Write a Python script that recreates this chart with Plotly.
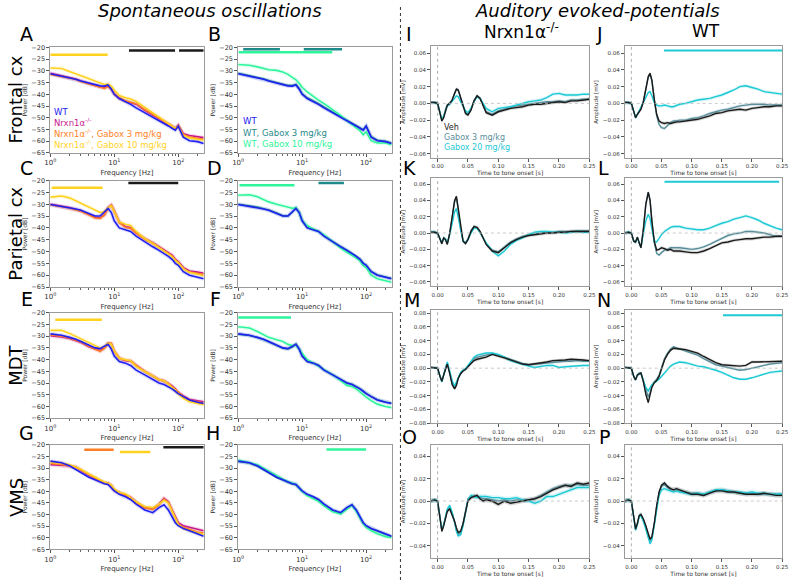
import math
import plotly.graph_objects as go

# ---------------- DATA ----------------
FREQ = [1, 1.5, 2, 2.5, 3, 4, 5, 6, 7, 8, 9, 10, 12, 15, 18, 22, 30, 40, 50, 60, 70, 80, 90, 100, 120, 150, 200, 250]

# Frontal cortex
FR_WT   = [-31.2,-32.2,-33.0,-33.6,-34.3,-35.3,-36.0,-36.4,-36.5,-36.0,-37.8,-40.0,-41.8,-43.0,-44.3,-45.8,-47.8,-49.8,-51.2,-52.5,-53.5,-54.5,-55.3,-53.6,-58.3,-59.8,-60.2,-61.0]
FR_KO   = [-31.0,-32.0,-32.8,-33.5,-34.3,-35.5,-36.3,-36.9,-37.2,-36.5,-37.8,-39.8,-41.8,-43.0,-43.6,-44.2,-46.8,-48.8,-50.3,-51.5,-52.5,-53.5,-54.5,-53.2,-56.8,-57.6,-58.0,-58.5]
FR_G3   = [-31.5,-32.3,-33.0,-33.6,-34.5,-35.6,-36.5,-37.2,-37.5,-36.8,-37.8,-39.8,-41.5,-42.8,-43.5,-44.0,-46.5,-48.5,-50.0,-51.3,-52.5,-53.5,-54.6,-53.4,-57.2,-58.2,-58.8,-59.2]
FR_G10  = [-28.8,-29.0,-30.3,-31.3,-32.3,-33.5,-34.5,-35.3,-35.8,-35.6,-36.5,-38.2,-40.5,-41.5,-42.0,-43.0,-45.5,-48.0,-49.6,-51.0,-52.4,-53.6,-54.6,-53.6,-57.6,-58.6,-59.2,-59.6]
FR_WG3  = [-31.0,-32.0,-32.8,-33.4,-34.1,-35.1,-35.8,-36.2,-36.3,-35.8,-37.5,-39.7,-41.5,-42.7,-44.0,-45.5,-47.6,-49.6,-51.0,-52.3,-53.3,-54.3,-55.1,-53.5,-58.1,-59.6,-60.0,-60.8]
FR_WG10 = [-27.3,-27.6,-28.3,-29.0,-29.5,-29.8,-30.5,-31.5,-32.8,-33.8,-35.3,-37.0,-39.0,-41.0,-42.5,-44.0,-46.5,-49.0,-51.2,-53.0,-54.3,-55.5,-57.3,-56.0,-59.8,-60.8,-60.8,-61.5]

# Parietal cortex
PA_WT   = [-30.1,-30.8,-31.3,-32.0,-32.5,-33.8,-35.0,-35.0,-33.5,-31.8,-33.5,-37.0,-40.0,-41.0,-41.5,-43.5,-46.0,-48.0,-49.5,-50.8,-52.0,-53.3,-55.0,-55.8,-58.5,-60.0,-60.8,-61.5]
PA_KO   = [-30.0,-30.8,-31.4,-32.2,-32.8,-34.3,-35.5,-35.8,-34.5,-31.5,-30.3,-32.8,-37.5,-39.5,-39.8,-42.0,-44.5,-46.3,-48.0,-49.3,-50.3,-51.5,-53.3,-54.2,-56.8,-58.2,-58.7,-59.2]
PA_G3   = [-30.2,-31.0,-31.6,-32.4,-33.0,-34.5,-35.8,-36.0,-34.6,-31.5,-30.5,-33.0,-37.8,-39.8,-40.2,-42.3,-44.8,-46.6,-48.2,-49.5,-50.5,-51.8,-53.6,-54.5,-57.2,-58.7,-59.2,-59.7]
PA_G10  = [-27.0,-26.5,-27.3,-28.5,-29.5,-31.0,-32.5,-33.5,-33.2,-31.5,-30.6,-33.0,-37.5,-38.5,-39.0,-41.5,-44.5,-46.5,-48.5,-49.8,-51.0,-52.2,-53.8,-54.8,-57.3,-58.8,-59.6,-60.2]
PA_WG3  = [-30.0,-30.7,-31.2,-31.9,-32.4,-33.7,-34.9,-34.9,-33.4,-31.6,-33.4,-36.8,-39.8,-40.8,-41.4,-43.4,-45.9,-47.9,-49.4,-50.7,-51.9,-53.2,-54.9,-55.7,-58.4,-59.9,-60.8,-61.4]
PA_WG10 = [-26.2,-26.0,-26.8,-28.0,-29.0,-30.0,-30.6,-31.2,-31.7,-31.5,-33.5,-37.0,-39.0,-40.5,-41.5,-43.0,-46.0,-48.5,-50.3,-51.5,-52.7,-54.0,-56.0,-56.8,-60.0,-61.5,-62.3,-63.0]

# MDT
MD_WT   = [-29.0,-29.6,-30.5,-31.3,-32.3,-33.8,-35.0,-35.3,-34.5,-33.5,-35.5,-38.5,-40.8,-41.5,-42.5,-44.5,-46.5,-48.5,-50.0,-50.6,-51.5,-52.5,-53.5,-54.5,-55.8,-57.2,-58.2,-58.7]
MD_KO   = [-29.8,-30.3,-31.0,-31.8,-32.6,-34.5,-35.5,-36.2,-35.0,-33.0,-33.2,-36.5,-39.5,-40.5,-40.6,-42.5,-45.0,-47.0,-48.5,-49.0,-50.0,-51.2,-52.5,-54.0,-55.5,-57.0,-57.6,-58.0]
MD_G3   = [-29.5,-30.0,-30.8,-31.6,-32.5,-34.3,-35.5,-36.5,-35.2,-33.0,-33.0,-36.3,-39.3,-40.3,-40.5,-42.5,-45.0,-47.0,-48.6,-49.2,-50.2,-51.5,-52.8,-54.2,-55.8,-57.4,-58.0,-58.5]
MD_G10  = [-27.5,-27.5,-28.8,-30.0,-31.0,-32.5,-34.0,-35.0,-34.5,-33.0,-33.5,-36.5,-39.5,-40.0,-40.5,-43.0,-45.0,-47.0,-48.5,-49.0,-50.5,-51.8,-53.0,-54.5,-56.5,-58.0,-58.8,-59.2]
MD_WG3  = [-29.1,-29.7,-30.6,-31.4,-32.4,-33.9,-35.1,-35.4,-34.6,-33.4,-35.4,-38.4,-40.7,-41.4,-42.4,-44.4,-46.4,-48.4,-49.9,-50.5,-51.4,-52.4,-53.4,-54.4,-55.7,-57.1,-58.1,-58.6]
MD_WG10 = [-26.0,-26.5,-28.0,-29.3,-30.5,-31.5,-32.3,-33.5,-34.0,-33.8,-35.5,-37.5,-40.0,-41.5,-42.8,-44.3,-46.5,-49.0,-51.0,-51.5,-52.5,-53.8,-55.0,-56.0,-57.5,-59.0,-60.0,-60.5]

# VMS
VM_WT   = [-27.0,-27.7,-29.0,-30.5,-31.8,-33.9,-35.0,-36.0,-36.7,-37.0,-38.5,-39.8,-41.3,-42.3,-43.5,-45.5,-48.0,-49.2,-47.0,-45.8,-48.0,-51.0,-53.5,-54.8,-56.0,-57.0,-58.3,-59.3]
VM_KO   = [-28.5,-28.8,-29.0,-29.5,-31.0,-33.0,-34.5,-35.5,-36.3,-36.5,-37.5,-39.5,-40.5,-41.5,-42.5,-44.5,-47.0,-47.5,-45.5,-43.0,-44.5,-48.0,-51.0,-53.5,-54.8,-55.5,-56.3,-57.0]
VM_G3   = [-28.0,-28.5,-28.8,-29.5,-30.8,-32.8,-34.3,-35.5,-36.3,-36.5,-37.6,-39.6,-40.6,-41.6,-42.8,-44.8,-47.2,-47.8,-45.8,-43.3,-44.8,-48.5,-51.5,-54.0,-55.5,-56.5,-57.5,-58.0]
VM_G10  = [-27.5,-27.8,-28.5,-29.5,-30.5,-32.5,-34.0,-35.0,-36.0,-36.5,-37.3,-39.0,-40.5,-41.0,-42.5,-44.5,-46.5,-47.0,-45.5,-43.8,-45.0,-48.5,-51.5,-54.3,-56.0,-57.0,-58.0,-58.5]
VM_WG3  = [-27.1,-27.8,-29.1,-30.6,-31.9,-34.0,-35.1,-36.1,-36.8,-37.1,-38.6,-39.9,-41.4,-42.4,-43.6,-45.6,-48.1,-49.3,-47.1,-45.9,-48.1,-51.1,-53.6,-54.9,-56.1,-57.1,-58.4,-59.4]
VM_WG10 = [-26.5,-27.5,-28.5,-30.0,-31.3,-33.5,-34.8,-35.8,-36.5,-37.0,-38.5,-40.0,-41.8,-43.0,-44.3,-46.3,-48.8,-49.8,-47.5,-46.0,-48.5,-51.5,-54.0,-55.5,-57.0,-58.3,-59.5,-60.0]

# significant frequency ranges [Hz]
SIG_A_G10 = [[1.0, 7.9]];  SIG_A_KO = [[17, 89], [103, 250]]
SIG_B_WG3 = [[1.2, 4.5], [10.6, 42]];  SIG_B_WG10 = [[1.02, 29.6]]
SIG_C_G10 = [[1.05, 6.6]];  SIG_C_KO = [[16.6, 100]]
SIG_D_WG10 = [[1.05, 7.6]];  SIG_D_WG3 = [[18, 45]]
SIG_E_G10 = [[1.2, 6.4]]
SIG_F_WG10 = [[1.0, 6.7]]
SIG_G_G3 = [[3.4, 9.8]];  SIG_G_G10 = [[12.3, 36.7]];  SIG_G_KO = [[58.5, 250]]
SIG_H_WG10 = [[24, 100]]

# ERPs
T = [-0.011,-0.005,0.000,0.004,0.007,0.010,0.013,0.016,0.020,0.024,0.028,0.031,0.034,0.038,0.042,0.046,0.050,0.055,0.060,0.065,
     0.070,0.075,0.080,0.090,0.100,0.110,0.120,0.130,0.140,0.150,0.160,0.170,0.180,0.190,0.200,0.210,0.220,0.230,0.240,0.250]

I_VEH = [0.001,0.001,0.000,-0.012,-0.021,-0.017,-0.008,-0.002,0.000,0.004,0.012,0.017,0.016,0.006,-0.004,-0.012,-0.014,-0.008,0.003,0.009,
         0.006,-0.003,-0.011,-0.014,-0.010,-0.008,-0.006,-0.005,-0.004,-0.002,-0.001,-0.001,0.000,0.001,0.002,0.001,0.003,0.003,0.004,0.005]
I_G3  = [0.001,0.001,0.000,-0.011,-0.020,-0.016,-0.007,-0.002,0.000,0.004,0.012,0.017,0.016,0.007,-0.003,-0.011,-0.013,-0.007,0.003,0.009,
         0.006,-0.002,-0.010,-0.013,-0.009,-0.007,-0.005,-0.003,-0.002,-0.001,0.000,0.001,0.002,0.002,0.003,0.002,0.004,0.004,0.005,0.005]
I_G20 = [0.001,0.001,0.000,-0.011,-0.019,-0.015,-0.008,-0.003,-0.001,0.002,0.006,0.009,0.008,0.002,-0.004,-0.009,-0.011,-0.006,0.002,0.008,
         0.006,0.000,-0.006,-0.010,-0.006,-0.005,-0.004,-0.002,0.000,0.002,0.003,0.004,0.007,0.011,0.012,0.010,0.010,0.010,0.011,0.011]

J_VEH = [0.001,0.001,0.000,-0.010,-0.017,-0.013,-0.010,-0.007,0.002,0.016,0.032,0.036,0.028,0.005,-0.013,-0.021,-0.023,-0.024,-0.023,-0.024,
         -0.023,-0.022,-0.022,-0.021,-0.020,-0.019,-0.017,-0.015,-0.012,-0.011,-0.009,-0.008,-0.007,-0.008,-0.006,-0.005,-0.004,-0.004,-0.003,-0.003]
J_G3  = [0.001,0.001,0.000,-0.010,-0.017,-0.013,-0.010,-0.006,0.003,0.017,0.031,0.035,0.027,0.004,-0.015,-0.025,-0.029,-0.030,-0.026,-0.023,
         -0.021,-0.021,-0.020,-0.020,-0.018,-0.017,-0.015,-0.012,-0.010,-0.008,-0.007,-0.005,-0.003,-0.002,-0.001,-0.001,-0.001,-0.002,-0.002,-0.002]
J_G20 = [0.001,0.001,0.000,-0.010,-0.017,-0.013,-0.009,-0.005,0.001,0.007,0.013,0.014,0.009,0.001,-0.002,-0.003,-0.003,-0.002,-0.003,-0.004,
         -0.004,-0.002,-0.001,0.000,0.002,0.004,0.005,0.006,0.008,0.010,0.013,0.016,0.020,0.021,0.019,0.017,0.014,0.013,0.012,0.011]

K_VEH = [0.001,0.001,0.000,-0.008,-0.013,-0.006,-0.008,-0.014,0.000,0.020,0.040,0.045,0.030,0.005,-0.010,-0.013,-0.008,0.002,0.008,0.007,
         0.002,-0.006,-0.014,-0.022,-0.024,-0.018,-0.012,-0.008,-0.005,-0.003,-0.002,-0.001,0.000,0.000,0.001,0.001,0.002,0.002,0.002,0.002]
K_G3  = [0.001,0.001,0.000,-0.008,-0.013,-0.006,-0.008,-0.013,0.000,0.019,0.038,0.043,0.029,0.004,-0.010,-0.012,-0.007,0.003,0.008,0.006,
         0.001,-0.006,-0.013,-0.021,-0.023,-0.017,-0.011,-0.007,-0.004,-0.002,-0.001,0.000,0.001,0.001,0.002,0.002,0.002,0.003,0.003,0.003]
K_G20 = [0.001,0.001,0.000,-0.007,-0.012,-0.006,-0.007,-0.012,-0.002,0.012,0.026,0.030,0.020,0.003,-0.010,-0.012,-0.008,0.000,0.006,0.006,
         0.001,-0.006,-0.012,-0.022,-0.028,-0.022,-0.014,-0.009,-0.006,-0.002,0.001,0.002,0.002,0.001,0.001,0.000,0.001,0.002,0.001,0.001]

L_VEH = [0.000,0.001,0.000,-0.010,-0.011,-0.005,-0.012,-0.018,0.005,0.035,0.050,0.040,0.015,-0.010,-0.021,-0.020,-0.018,-0.019,-0.021,-0.020,
         -0.022,-0.022,-0.022,-0.023,-0.024,-0.024,-0.022,-0.019,-0.015,-0.012,-0.011,-0.009,-0.008,-0.007,-0.007,-0.006,-0.005,-0.005,-0.004,-0.004]
L_G3  = [0.000,0.001,0.000,-0.010,-0.011,-0.005,-0.012,-0.018,0.005,0.036,0.050,0.041,0.015,-0.012,-0.025,-0.027,-0.024,-0.021,-0.020,-0.018,
         -0.018,-0.018,-0.018,-0.019,-0.020,-0.019,-0.017,-0.014,-0.010,-0.006,-0.003,-0.001,0.000,0.002,0.002,0.001,0.000,-0.002,-0.004,-0.004]
L_G20 = [0.000,0.001,0.000,-0.010,-0.011,-0.006,-0.012,-0.017,0.000,0.015,0.023,0.018,0.005,-0.010,-0.011,-0.006,-0.002,0.002,0.005,0.007,
         0.008,0.008,0.008,0.006,0.005,0.004,0.004,0.006,0.009,0.012,0.014,0.017,0.019,0.021,0.019,0.016,0.012,0.009,0.006,0.004]

M_VEH = [0.001,0.001,0.000,-0.012,-0.019,-0.010,0.000,0.006,-0.008,-0.024,-0.030,-0.025,-0.015,-0.008,-0.004,-0.002,0.002,0.007,0.011,0.013,
         0.014,0.015,0.016,0.020,0.018,0.015,0.012,0.009,0.006,0.005,0.006,0.007,0.009,0.011,0.011,0.012,0.013,0.013,0.012,0.011]
M_G3  = [0.001,0.001,0.000,-0.012,-0.019,-0.010,0.001,0.007,-0.007,-0.022,-0.028,-0.023,-0.014,-0.007,-0.003,-0.001,0.003,0.009,0.014,0.016,
         0.017,0.018,0.019,0.021,0.019,0.016,0.012,0.009,0.007,0.005,0.006,0.006,0.008,0.009,0.009,0.010,0.010,0.011,0.010,0.010]
M_G20 = [0.001,0.001,0.000,-0.012,-0.020,-0.010,0.002,0.009,-0.004,-0.018,-0.026,-0.020,-0.012,-0.006,-0.003,-0.001,0.004,0.010,0.016,0.019,
         0.020,0.021,0.022,0.022,0.020,0.016,0.011,0.008,0.005,0.003,0.001,0.003,0.004,0.004,0.001,0.002,0.003,0.004,0.004,0.004]

N_VEH = [0.001,0.001,0.000,-0.012,-0.017,-0.010,-0.008,-0.007,-0.020,-0.038,-0.050,-0.040,-0.028,-0.021,-0.018,-0.012,0.000,0.012,0.020,0.026,
         0.029,0.029,0.028,0.027,0.025,0.022,0.017,0.012,0.008,0.005,0.004,0.003,0.003,0.004,0.009,0.009,0.009,0.010,0.010,0.010]
N_G3  = [0.001,0.001,0.000,-0.012,-0.017,-0.010,-0.007,-0.007,-0.018,-0.032,-0.042,-0.035,-0.026,-0.020,-0.016,-0.010,0.002,0.014,0.022,0.028,
         0.031,0.030,0.028,0.025,0.022,0.019,0.014,0.009,0.005,0.003,0.001,-0.001,-0.003,-0.002,0.000,0.002,0.005,0.006,0.007,0.008]
N_G20 = [0.001,0.001,0.000,-0.012,-0.017,-0.010,-0.008,-0.008,-0.018,-0.028,-0.033,-0.028,-0.024,-0.021,-0.019,-0.016,-0.012,-0.007,-0.002,0.003,
         0.006,0.008,0.009,0.008,0.005,0.003,0.002,0.000,-0.003,-0.006,-0.010,-0.014,-0.016,-0.016,-0.014,-0.011,-0.008,-0.006,-0.005,-0.004]

O_VEH = [0.000,0.001,0.000,-0.015,-0.027,-0.022,-0.016,-0.009,-0.007,-0.012,-0.018,-0.024,-0.028,-0.027,-0.020,-0.010,0.000,0.003,0.004,0.005,
         0.002,0.000,0.001,0.000,-0.003,0.000,-0.002,-0.001,0.000,0.001,0.002,0.004,0.007,0.010,0.012,0.014,0.013,0.016,0.015,0.016]
O_G3  = [0.000,0.001,0.000,-0.015,-0.026,-0.021,-0.015,-0.008,-0.006,-0.011,-0.019,-0.026,-0.030,-0.028,-0.020,-0.008,0.002,0.004,0.005,0.004,
         0.003,0.002,0.002,0.001,0.000,0.001,0.000,0.001,0.001,0.001,0.002,0.005,0.008,0.011,0.013,0.014,0.014,0.015,0.014,0.014]
O_G20 = [0.000,0.001,0.000,-0.014,-0.026,-0.021,-0.014,-0.007,-0.004,-0.010,-0.019,-0.027,-0.031,-0.030,-0.022,-0.010,0.001,0.005,0.004,0.003,
         0.004,0.004,0.004,0.003,0.003,0.002,0.002,0.003,0.001,0.000,-0.002,0.000,0.004,0.004,0.006,0.008,0.010,0.012,0.012,0.012]

P_VEH = [0.000,0.001,0.000,-0.014,-0.025,-0.020,-0.013,-0.012,-0.016,-0.022,-0.030,-0.034,-0.032,-0.020,-0.004,0.008,0.014,0.016,0.013,0.011,
         0.010,0.011,0.010,0.008,0.006,0.006,0.005,0.007,0.009,0.009,0.008,0.008,0.007,0.006,0.006,0.006,0.007,0.006,0.005,0.005]
P_G3  = [0.000,0.001,0.000,-0.014,-0.025,-0.020,-0.013,-0.012,-0.017,-0.023,-0.031,-0.035,-0.033,-0.021,-0.005,0.007,0.013,0.015,0.012,0.010,
         0.010,0.010,0.009,0.008,0.007,0.007,0.006,0.008,0.009,0.010,0.009,0.008,0.007,0.007,0.007,0.006,0.006,0.006,0.006,0.006]
P_G20 = [0.000,0.001,0.000,-0.014,-0.026,-0.021,-0.014,-0.013,-0.018,-0.025,-0.033,-0.038,-0.035,-0.022,-0.006,0.005,0.010,0.011,0.010,0.009,
         0.008,0.009,0.008,0.007,0.006,0.007,0.006,0.008,0.010,0.010,0.009,0.008,0.008,0.007,0.008,0.007,0.007,0.006,0.006,0.006]

SIG_J = [[0.054, 0.25]]
SIG_L = [[0.055, 0.245]]
SIG_N = [[0.152, 0.25]]
ERP_SEM = 0.002

# ---------------- STYLE ----------------
C_WT, C_KO, C_G3, C_G10 = "#2020f0", "#c8188f", "#ff7f27", "#ffd21f"
C_WG3, C_WG10 = "#1f8a8a", "#2ef59b"
C_VEH, C_E3, C_E20 = "#1a1a1a", "#5a8e9a", "#1cc9d4"
C_BLACKBAR = "#1a1a1a"

W, H = 795, 584
def px(x): return x / W
def py(y): return 1 - y / H
def rgba(hexc, a):
    h = hexc.lstrip('#')
    return "rgba(%d,%d,%d,%.2f)" % (int(h[0:2], 16), int(h[2:4], 16), int(h[4:6], 16), a)

FONT = "DejaVu Sans"
fig = go.Figure()
layout = dict(width=W, height=H, margin=dict(l=0, r=0, t=0, b=0), paper_bgcolor="white",
              plot_bgcolor="white", showlegend=False, font=dict(family=FONT, color="#333"))
annotations, shapes = [], []

def names(n):
    return ("xaxis" if n == 1 else "xaxis%d" % n, "yaxis" if n == 1 else "yaxis%d" % n,
            "x" if n == 1 else "x%d" % n, "y" if n == 1 else "y%d" % n)

MINOR = [2, 3, 4, 5, 6, 7, 8, 9, 20, 30, 40, 50, 60, 70, 80, 90, 200]
axstyle = dict(showline=True, mirror=True, linecolor="#9a9a9a", linewidth=0.8, showgrid=False,
               zeroline=False, ticks="outside", ticklen=3, tickwidth=0.7, tickcolor="#555")

def psd_panel(n, xd, yd, series, bars):
    xa, ya, xr, yr = names(n)
    layout[xa] = dict(domain=[px(xd[0]), px(xd[1])], anchor=yr, type="log", range=[0, math.log10(250)],
                      tickvals=[1, 10, 100], ticktext=["10<sup>0</sup>", "10<sup>1</sup>", "10<sup>2</sup>"],
                      tickfont=dict(size=7, color="#333"),
                      title=dict(text="Frequency [Hz]", font=dict(size=7, color="#333"), standoff=3),
                      minor=dict(tickvals=MINOR, ticks="outside", ticklen=2, tickcolor="#666", tickwidth=0.6),
                      **axstyle)
    layout[ya] = dict(domain=[py(yd[1]), py(yd[0])], anchor=xr, range=[-65.02, -19.98], dtick=5, tick0=-65,
                      tickfont=dict(size=6.5, color="#333"),
                      title=dict(text="Power [dB]", font=dict(size=6, color="#333"), standoff=3), **axstyle)
    for ys, col in series:
        fig.add_trace(go.Scatter(x=FREQ, y=ys, mode="lines", line=dict(color=rgba(col, 0.15), width=4),
                                 xaxis=xr, yaxis=yr, hoverinfo="skip"))
    for ys, col in series:
        fig.add_trace(go.Scatter(x=FREQ, y=ys, mode="lines", line=dict(color=col, width=1.6),
                                 xaxis=xr, yaxis=yr))
    for ranges, level, col in bars:
        for a, b in ranges:
            fig.add_trace(go.Scatter(x=[a, b], y=[level, level], mode="lines",
                                     line=dict(color=col, width=2.5), xaxis=xr, yaxis=yr))

def erp_panel(n, xd, yd, yrange, ytick_lim, series, bars=None, bar_level=None):
    xa, ya, xr, yr = names(n)
    layout[xa] = dict(domain=[px(xd[0]), px(xd[1])], anchor=yr, range=[-0.011, 0.25],
                      tickvals=[0, 0.05, 0.10, 0.15, 0.20, 0.25], tickformat=".2f",
                      tickfont=dict(size=5.5, color="#333"),
                      title=dict(text="Time to tone onset [s]", font=dict(size=6, color="#333"), standoff=2),
                      **axstyle)
    tv = [round(-ytick_lim + 0.02 * k, 2) for k in range(int(round(2 * ytick_lim / 0.02)) + 1)]
    layout[ya] = dict(domain=[py(yd[1]), py(yd[0])], anchor=xr, range=yrange, tickvals=tv, tickformat=".2f",
                      tickfont=dict(size=5.5, color="#333"),
                      title=dict(text="Amplitude [mV]", font=dict(size=5.5, color="#333"), standoff=3),
                      **axstyle)
    shapes.append(dict(type="line", xref=xr + " domain", x0=0, x1=1, yref=yr, y0=0, y1=0,
                       line=dict(color="#bbbbbb", width=0.8, dash="dot")))
    shapes.append(dict(type="line", xref=xr, x0=0, x1=0, yref=yr + " domain", y0=0, y1=1,
                       line=dict(color="#999999", width=0.8, dash="dot")))
    for ys, col in series:
        up = [v + ERP_SEM for v in ys]
        lo = [v - ERP_SEM for v in ys]
        fig.add_trace(go.Scatter(x=T + T[::-1], y=up + lo[::-1], fill="toself", mode="lines",
                                 line=dict(width=0), fillcolor=rgba(col, 0.18), xaxis=xr, yaxis=yr,
                                 hoverinfo="skip"))
    for ys, col in series:
        fig.add_trace(go.Scatter(x=T, y=ys, mode="lines", line=dict(color=col, width=1.4),
                                 xaxis=xr, yaxis=yr))
    if bars:
        for a, b in bars:
            fig.add_trace(go.Scatter(x=[a, b], y=[bar_level, bar_level], mode="lines",
                                     line=dict(color=C_E20, width=2), xaxis=xr, yaxis=yr))

PX = [[45, 201], [236, 392]]
PY = [[44, 151], [179, 287], [313, 420], [447, 553]]
EX = [[432, 593], [629, 789]]
EY = [[43, 156], [176, 286], [310, 425], [447, 562]]

regions = [
    (FR_WT, FR_KO, FR_G3, FR_G10, FR_WG3, FR_WG10),
    (PA_WT, PA_KO, PA_G3, PA_G10, PA_WG3, PA_WG10),
    (MD_WT, MD_KO, MD_G3, MD_G10, MD_WG3, MD_WG10),
    (VM_WT, VM_KO, VM_G3, VM_G10, VM_WG3, VM_WG10),
]
left_bars = [
    [(SIG_A_G10, -23.1, C_G10), (SIG_A_KO, -21.3, C_BLACKBAR)],
    [(SIG_C_G10, -23.0, C_G10), (SIG_C_KO, -21.0, C_BLACKBAR)],
    [(SIG_E_G10, -23.0, C_G10)],
    [(SIG_G_G3, -22.1, C_G3), (SIG_G_G10, -23.1, C_G10), (SIG_G_KO, -21.0, C_BLACKBAR)],
]
right_bars = [
    [(SIG_B_WG3, -20.8, C_WG3), (SIG_B_WG10, -22.0, C_WG10)],
    [(SIG_D_WG10, -22.0, C_WG10), (SIG_D_WG3, -21.0, C_WG3)],
    [(SIG_F_WG10, -22.0, C_WG10)],
    [(SIG_H_WG10, -22.0, C_WG10)],
]
for r, (wt, ko, g3, g10, wg3, wg10) in enumerate(regions):
    psd_panel(2 * r + 1, PX[0], PY[r], [(ko, C_KO), (g3, C_G3), (g10, C_G10), (wt, C_WT)], left_bars[r])
    psd_panel(2 * r + 2, PX[1], PY[r], [(wg3, C_WG3), (wg10, C_WG10), (wt, C_WT)], right_bars[r])

erps = [
    ((I_VEH, I_G3, I_G20), (J_VEH, J_G3, J_G20), [-0.065, 0.068], 0.06, SIG_J, 0.063),
    ((K_VEH, K_G3, K_G20), (L_VEH, L_G3, L_G20), [-0.065, 0.068], 0.06, SIG_L, 0.063),
    ((M_VEH, M_G3, M_G20), (N_VEH, N_G3, N_G20), [-0.08, 0.085], 0.08, SIG_N, 0.077),
    ((O_VEH, O_G3, O_G20), (P_VEH, P_G3, P_G20), [-0.051, 0.05], 0.04, None, None),
]
for r, (ko, wt, yrg, lim, sig, lvl) in enumerate(erps):
    erp_panel(9 + 2 * r, EX[0], EY[r], yrg, lim, [(ko[1], C_E3), (ko[2], C_E20), (ko[0], C_VEH)])
    erp_panel(10 + 2 * r, EX[1], EY[r], yrg, lim, [(wt[1], C_E3), (wt[2], C_E20), (wt[0], C_VEH)], sig, lvl)

# ---------------- TEXT ----------------
def ann(x, y, text, size, color="black", angle=0, xanchor="center", yanchor="middle"):
    annotations.append(dict(x=px(x), y=py(y), xref="paper", yref="paper", text=text, showarrow=False,
                            font=dict(size=size, color=color, family=FONT), textangle=angle,
                            xanchor=xanchor, yanchor=yanchor))

ann(207, 7, "<i>Spontaneous oscillations</i>", 18)
ann(601, 7, "<i>Auditory evoked-potentials</i>", 18)
ann(524, 27, "Nrxn1α<sup>-/-</sup>", 17)
ann(712, 27, "WT", 17)

letters = [("A", 21, 30), ("B", 212, 30), ("C", 21, 166), ("D", 212, 166), ("E", 21, 299), ("F", 213, 299),
           ("G", 21, 435), ("H", 210, 435), ("I", 410, 30), ("J", 603, 30), ("K", 410, 166), ("L", 607, 166),
           ("M", 413, 300), ("N", 608, 300), ("O", 410, 439), ("P", 608, 439)]
for t, x, y in letters:
    ann(x, y, t, 19)

for t, y in [("Frontal cx", 97), ("Parietal cx", 233), ("MDT", 366), ("VMS", 500)]:
    ann(10, y, t, 18, angle=-90)

KO_TXT = "Nrxn1α<sup>-/-</sup>"
for i, (t, c) in enumerate([("WT", C_WT), (KO_TXT, C_KO), (KO_TXT + ", Gabox 3 mg/kg", C_G3),
                            (KO_TXT + ", Gabox 10 mg/kg", C_G10)]):
    ann(47, 109 + i * 11, t, 8.5, color=c, xanchor="left")
for i, (t, c) in enumerate([("WT", C_WT), ("WT, Gabox 3 mg/kg", C_WG3), ("WT, Gabox 10 mg/kg", C_WG10)]):
    ann(239, 119 + i * 11.5, t, 8.5, color=c, xanchor="left")
for i, (t, c) in enumerate([("Veh", C_VEH), ("Gabox 3 mg/kg", C_E3), ("Gabox 20 mg/kg", C_E20)]):
    ann(443, 125 + i * 10, t, 8, color=c, xanchor="left")

shapes.append(dict(type="line", xref="paper", yref="paper", x0=px(401), x1=px(401), y0=0, y1=1,
                   line=dict(color="#333", width=1, dash="dot")))

layout["annotations"] = annotations
layout["shapes"] = shapes
fig.update_layout(**layout)
fig.write_html("out.html", config={"displayModeBar": False},
               post_script="document.body.style.margin='0px';")
